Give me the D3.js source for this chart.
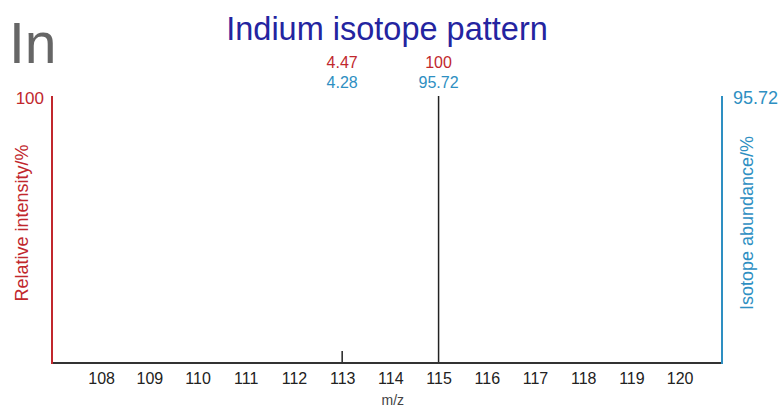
<!DOCTYPE html>
<html>
<head>
<meta charset="utf-8">
<script src="https://cdn.jsdelivr.net/npm/d3@7/dist/d3.min.js"></script>
<style>
  html, body { margin: 0; padding: 0; background: #fff; }
  svg { display: block; font-family: "Liberation Sans", Arial, Helvetica, sans-serif; }
</style>
</head>
<body>
<svg id="chart" width="779" height="410"></svg>
<script>
// Indium isotopes: mass number, relative intensity (%), natural abundance (%)
const masses = [113, 115];
const intensity = [4.47, 100];
const abundance = [4.28, 95.72];
const intensityLabels = ["4.47", "100"];
const abundanceLabels = ["4.28", "95.72"];
const tickValues = [108, 109, 110, 111, 112, 113, 114, 115, 116, 117, 118, 119, 120];
const xDomain = [106.98, 120.88];

const RED = "#c1272d";
const BLUE = "#2e8fc2";
const AXIS = "#333";

const margin = { left: 52, right: 57, top: 96, bottom: 47 };
const W = 779, H = 410;
const svg = d3.select("#chart");

const x = d3.scaleLinear().domain(xDomain).range([margin.left, W - margin.right]);
const yLeft = d3.scaleLinear().domain([0, 100]).range([H - margin.bottom, margin.top]);
const yRight = d3.scaleLinear().domain([0, d3.max(abundance)]).range([H - margin.bottom, margin.top]);

// element symbol and title
svg.append("text").attr("x", 9).attr("y", 63)
  .attr("font-size", 57).attr("fill", "#666").text("In");
svg.append("text").attr("x", 387).attr("y", 40).attr("text-anchor", "middle")
  .attr("font-size", 32.5).attr("fill", "#2424a0").text("Indium isotope pattern");

// peaks
svg.append("g").selectAll("line").data(masses).join("line")
  .attr("x1", d => x(d)).attr("x2", d => x(d))
  .attr("y1", yLeft(0)).attr("y2", (d, i) => yLeft(intensity[i]))
  .attr("stroke", "#222").attr("stroke-width", 1.5);

// value labels above peaks
svg.append("g").selectAll("text").data(masses).join("text")
  .attr("x", d => x(d)).attr("y", 68).attr("text-anchor", "middle")
  .attr("font-size", 16).attr("fill", RED).text((d, i) => intensityLabels[i]);
svg.append("g").selectAll("text").data(masses).join("text")
  .attr("x", d => x(d)).attr("y", 88).attr("text-anchor", "middle")
  .attr("font-size", 16).attr("fill", BLUE).text((d, i) => abundanceLabels[i]);

// x axis
const xAxis = d3.axisBottom(x).tickValues(tickValues).tickSize(0).tickPadding(10).tickFormat(d3.format("d"));
const gx = svg.append("g").attr("transform", `translate(0,${H - margin.bottom})`).call(xAxis);
gx.select(".domain").remove();
gx.selectAll("text").attr("font-size", 16).attr("fill", "#222").attr("font-family", null);
svg.append("line").attr("x1", margin.left).attr("x2", W - margin.right)
  .attr("y1", yLeft(0)).attr("y2", yLeft(0)).attr("stroke", AXIS).attr("stroke-width", 2);
svg.append("text").attr("x", x(114.05)).attr("y", 405).attr("text-anchor", "middle")
  .attr("font-size", 14).attr("fill", "#444").text("m/z");

// left axis (relative intensity)
svg.append("line").attr("x1", margin.left).attr("x2", margin.left)
  .attr("y1", yLeft(0) + 1).attr("y2", yLeft(100)).attr("stroke", RED).attr("stroke-width", 2);
svg.append("text").attr("x", 44).attr("y", 104).attr("text-anchor", "end")
  .attr("font-size", 17).attr("fill", RED).text("100");
svg.append("text").attr("transform", "translate(28,223) rotate(-90)").attr("text-anchor", "middle")
  .attr("font-size", 18).attr("fill", RED).text("Relative intensity/%");

// right axis (isotope abundance)
const rx = W - margin.right;
svg.append("line").attr("x1", rx).attr("x2", rx)
  .attr("y1", yRight(0) + 1).attr("y2", yRight(d3.max(abundance))).attr("stroke", BLUE).attr("stroke-width", 2);
svg.append("text").attr("x", 733).attr("y", 104)
  .attr("font-size", 18).attr("fill", BLUE).text(abundanceLabels[1]);
svg.append("text").attr("transform", "translate(753,223) rotate(-90)").attr("text-anchor", "middle")
  .attr("font-size", 18).attr("fill", BLUE).text("Isotope abundance/%");
</script>
</body>
</html>
